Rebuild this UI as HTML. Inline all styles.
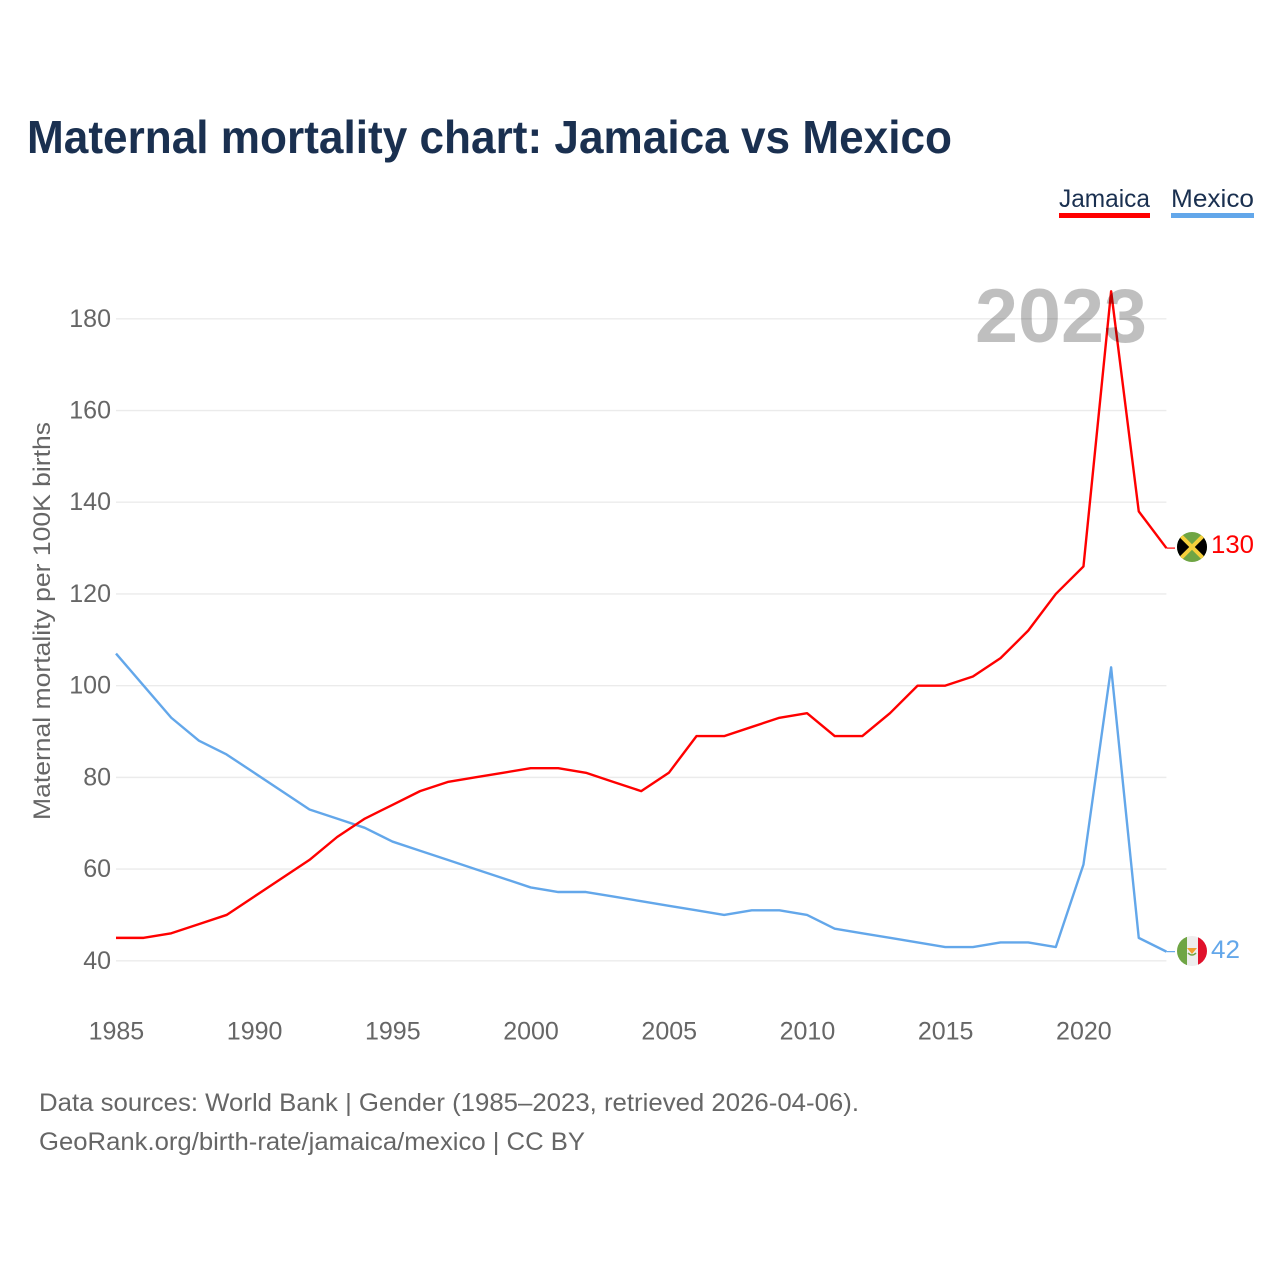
<!DOCTYPE html>
<html lang="en">
<head>
<meta charset="utf-8">
<title>Maternal mortality chart: Jamaica vs Mexico</title>
<style>
html,body{margin:0;padding:0;background:#fff;width:1280px;height:1280px;overflow:hidden}
svg{display:block}
text{font-family:"Liberation Sans",sans-serif}
</style>
</head>
<body>
<svg id="chart" width="1280" height="1280" viewBox="0 0 1280 1280" xmlns="http://www.w3.org/2000/svg">
  <defs>
    <clipPath id="clip-jm"><circle cx="1192" cy="547" r="15"/></clipPath>
    <clipPath id="clip-mx"><circle cx="1192" cy="951" r="15"/></clipPath>
  </defs>
  <rect x="0" y="0" width="1280" height="1280" fill="#fff"/>
  <text x="27" y="153" font-size="46" font-weight="700" fill="#1a3050" textLength="925" lengthAdjust="spacingAndGlyphs">Maternal mortality chart: Jamaica vs Mexico</text>

  <g id="grid"></g>
  <g id="y-ticks"></g>
  <g id="x-ticks"></g>
  <text transform="translate(50,621) rotate(-90)" text-anchor="middle" font-size="24" fill="#666" textLength="398" lengthAdjust="spacingAndGlyphs">Maternal mortality per 100K births</text>

  <g id="series"></g>
  <text x="1147" y="342" text-anchor="end" font-size="76" font-weight="700" fill="#000" fill-opacity="0.25" textLength="172" lengthAdjust="spacingAndGlyphs">2023</text>

  <g>
    <text x="1059" y="207" font-size="25" fill="#1a3050" textLength="91" lengthAdjust="spacingAndGlyphs">Jamaica</text>
    <rect x="1059" y="213" width="91" height="5" fill="#ff0000"/>
  </g>
  <g>
    <text x="1171" y="207" font-size="25" fill="#1a3050" textLength="83" lengthAdjust="spacingAndGlyphs">Mexico</text>
    <rect x="1171" y="213" width="83" height="5" fill="#63a7ea"/>
  </g>

  <g clip-path="url(#clip-jm)">
    <rect x="1177" y="532" width="30" height="30" fill="#6fa544"/>
    <polygon points="1177,532 1192,547 1177,562" fill="#000"/>
    <polygon points="1207,532 1192,547 1207,562" fill="#000"/>
    <line x1="1179" y1="534" x2="1205" y2="560" stroke="#f5d03c" stroke-width="4"/>
    <line x1="1205" y1="534" x2="1179" y2="560" stroke="#f5d03c" stroke-width="4"/>
  </g>
  <text x="1211" y="553" font-size="25" fill="#ff0000" textLength="43" lengthAdjust="spacingAndGlyphs">130</text>

  <g clip-path="url(#clip-mx)">
    <rect x="1177" y="936" width="30" height="30" fill="#eeeeee"/>
    <rect x="1177" y="936" width="10" height="30" fill="#6fa544"/>
    <rect x="1198" y="936" width="9" height="30" fill="#e0112b"/>
    <polygon points="1187,948 1197,948 1192,954" fill="#f0a030"/>
    <path d="M1188 953 Q1192 957 1196 953" stroke="#6fa544" stroke-width="1.5" fill="none"/>
  </g>
  <text x="1211" y="958" font-size="25" fill="#63a7ea" textLength="29" lengthAdjust="spacingAndGlyphs">42</text>

  <text x="39" y="1111" font-size="25" fill="#666" textLength="820" lengthAdjust="spacingAndGlyphs">Data sources: World Bank | Gender (1985–2023, retrieved 2026-04-06).</text>
  <text x="39" y="1150" font-size="25" fill="#666" textLength="546" lengthAdjust="spacingAndGlyphs">GeoRank.org/birth-rate/jamaica/mexico | CC BY</text>
</svg>
<script>
const years = [1985,1986,1987,1988,1989,1990,1991,1992,1993,1994,1995,1996,1997,1998,1999,2000,2001,2002,2003,2004,2005,2006,2007,2008,2009,2010,2011,2012,2013,2014,2015,2016,2017,2018,2019,2020,2021,2022,2023];
const jamaicaValues = [45,45,46,48,50,54,58,62,67,71,74,77,79,80,81,82,82,81,79,77,81,89,89,91,93,94,89,89,94,100,100,102,106,112,120,126,186,138,130];
const mexicoValues = [107,100,93,88,85,81,77,73,71,69,66,64,62,60,58,56,55,55,54,53,52,51,50,51,51,50,47,46,45,44,43,43,44,44,43,61,104,45,42];
const yTickLabels = [40,60,80,100,120,140,160,180];
const xTickLabels = [1985,1990,1995,2000,2005,2010,2015,2020];

const NS = 'http://www.w3.org/2000/svg';
function xScale(year) { return 116 + (year - 1985) * (1166.4 - 116) / 38; }
function yScale(v) { return 960.8 - (v - 40) * (960.8 - 318.8) / 140; }
function make(tag, attrs, parent) {
  const el = document.createElementNS(NS, tag);
  for (const k in attrs) el.setAttribute(k, attrs[k]);
  parent.appendChild(el);
  return el;
}
const gridG = document.getElementById('grid');
const yG = document.getElementById('y-ticks');
const xG = document.getElementById('x-ticks');
const seriesG = document.getElementById('series');

yTickLabels.forEach(function (v) {
  const line = make('line', {x1: 116, x2: 1166.4, y1: yScale(v), y2: yScale(v), stroke: '#ebebeb', 'stroke-width': 1.4}, gridG);
  
  
  const t = make('text', {x: 111, y: yScale(v) + 8, 'text-anchor': 'end', 'font-size': 25, fill: '#666'}, yG);
  
  
  t.textContent = v;
});
xTickLabels.forEach(function (y) {
  const t = make('text', {x: xScale(y) + 0.4, y: 1039.5, 'text-anchor': 'middle', 'font-size': 25, fill: '#666'}, xG);
  
  
  t.textContent = y;
});
function path(values) {
  return values.map(function (v, i) { return (i ? 'L' : 'M') + xScale(years[i]).toFixed(2) + ' ' + yScale(v).toFixed(2); }).join(' ');
}
const mexLine = make('path', {d: path(mexicoValues), fill: 'none', stroke: '#63a7ea', 'stroke-width': 2.4, 'stroke-linejoin': 'round'}, seriesG);


const jamLine = make('path', {d: path(jamaicaValues), fill: 'none', stroke: '#ff0000', 'stroke-width': 2.4, 'stroke-linejoin': 'round'}, seriesG);



const jamConn = make('line', {x1: xScale(2023), y1: yScale(130), x2: 1175, y2: yScale(130), stroke: '#ff0000', 'stroke-width': 1.2}, seriesG);


const mexConn = make('line', {x1: xScale(2023), y1: yScale(42), x2: 1175, y2: yScale(42), stroke: '#63a7ea', 'stroke-width': 1.2}, seriesG);


</script>
</body>
</html>
